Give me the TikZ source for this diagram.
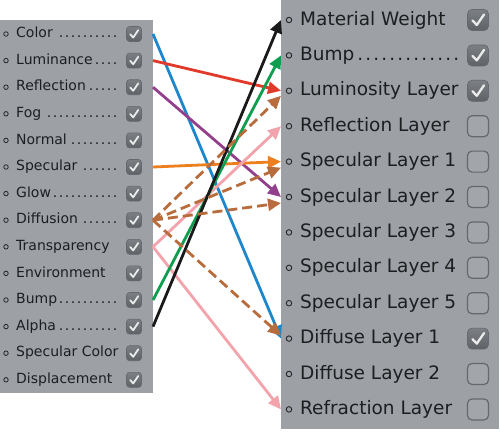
\documentclass[tikz,border=0pt]{standalone}
\usepackage{fontspec}
\setmainfont{DejaVu Sans}
\usetikzlibrary{arrows.meta}
\definecolor{panel}{HTML}{9DA1A5}
\definecolor{boxdark}{HTML}{5E6165}
\definecolor{boxlight}{HTML}{7C8084}
\definecolor{boxedge}{HTML}{65686C}
\definecolor{txt}{HTML}{1C1E20}
\definecolor{cblue}{HTML}{1E87CC}
\definecolor{cred}{HTML}{E23A2A}
\definecolor{cpurple}{HTML}{923F8C}
\definecolor{corange}{HTML}{EE7F1E}
\definecolor{cbrown}{HTML}{B86C3C}
\definecolor{cpink}{HTML}{F2A3AC}
\definecolor{cgreen}{HTML}{0E9E4E}
\definecolor{cblack}{HTML}{1A1A1A}
\newcommand\dotlead[1]{\leaders\hbox to #1{\hss.\hss}\hfill}
\tikzset{
  panelbox/.style={fill=panel, draw=none},
  leftlabel/.style={anchor=west, inner sep=0pt, text=txt, font=\fontsize{14}{16}\selectfont, text height=10.5pt, text depth=3pt},
  rightlabel/.style={anchor=west, inner sep=0pt, text=txt, font=\fontsize{18.5}{22}\selectfont, text height=14pt, text depth=4pt},
  port/.style={circle, draw=black!85, line width=0.8pt, inner sep=0pt, minimum size=4.5pt},
  bigport/.style={circle, draw=black!85, line width=0.9pt, inner sep=0pt, minimum size=5.5pt},
  chk/.style={rounded corners=3pt, inner sep=0pt, minimum size=15pt, top color=boxlight, bottom color=boxdark, draw=boxedge, line width=0.6pt},
  bigchk/.style={rounded corners=4.5pt, inner sep=0pt, minimum size=21pt, top color=boxlight, bottom color=boxdark, draw=boxedge, line width=0.7pt},
  emptychk/.style={rounded corners=4.5pt, inner sep=0pt, minimum size=21pt, fill=panel!95!white, draw=boxedge, line width=1.2pt},
  tick/.style={draw=white!92!black, line width=1.8pt, line cap=round, line join=round},
  link/.style={line width=2.8pt, -{Triangle[length=13pt,width=12pt]}},
  blink/.style={line width=2.8pt, dash pattern=on 10pt off 5pt, -{Triangle[length=13pt,width=12pt]}, color=cbrown},
}
\begin{document}
\begin{tikzpicture}[x=1pt,y=-1pt]
\useasboundingbox (0,0) rectangle (500,431);
\fill[white] (0,0) rectangle (500,431);
% panels
\fill[panelbox] (0,20) rectangle (153,393);
\fill[panelbox] (281,0) rectangle (499,429);
% left list
\foreach \i/\lab/\dots in {0/Color/1,1/Luminance/1,2/Reflection/1,3/Fog/1,4/Normal/1,5/Specular/1,6/Glow/1,7/Diffusion/1,8/Transparency/0,9/Environment/0,10/Bump/1,11/Alpha/1,12/Specular Color/0,13/Displacement/0}{
  \pgfmathsetmacro\yy{34+26.6*\i}
  \node[port] (lp\i) at (6,\yy) {};
  \ifnum\dots=1
    \node[leftlabel] (lt\i) at (16,\yy) {\hbox to 107pt{\lab\dotlead{6pt}}};
  \else
    \node[leftlabel] (lt\i) at (16,\yy) {\lab};
  \fi
  \node[chk] (lc\i) at (134,\yy) {};
  \draw[tick] ([shift={(-3.8pt,-0.2pt)}]lc\i.center) -- ([shift={(-0.8pt,-3.6pt)}]lc\i.center) -- ([shift={(4.2pt,3.8pt)}]lc\i.center);
  \coordinate (L\i) at (153,\yy);
}
% right list
\foreach \j/\lab/\st in {0/Material Weight/1,1/Bump/2,2/Luminosity Layer/1,3/Reflection Layer/0,4/Specular Layer 1/0,5/Specular Layer 2/0,6/Specular Layer 3/0,7/Specular Layer 4/0,8/Specular Layer 5/0,9/Diffuse Layer 1/1,10/Diffuse Layer 2/0,11/Refraction Layer/0}{
  \pgfmathsetmacro\yy{20+35.4*\j}
  \node[bigport] (rp\j) at (289,\yy) {};
  \ifnum\st=2
    \node[rightlabel] (rt\j) at (300,\yy) {\hbox to 160pt{\lab\dotlead{8pt}}};
  \else
    \node[rightlabel] (rt\j) at (300,\yy) {\lab};
  \fi
  \ifnum\st=0
    \node[emptychk] (rc\j) at (478,\yy) {};
  \else
    \node[bigchk] (rc\j) at (478,\yy) {};
    \draw[tick, line width=2.3pt] ([shift={(-5.5pt,-0.5pt)}]rc\j.center) -- ([shift={(-1.2pt,-5pt)}]rc\j.center) -- ([shift={(6pt,5.5pt)}]rc\j.center);
  \fi
  \coordinate (R\j) at (281,\yy);
}
% connectors
\draw[link, cblue] (L0) -- (R9);
\draw[link, cred] (L1) -- (R2);
\draw[link, cpurple] (L2) -- (R5);
\draw[link, corange] (L5) -- (R4);
\draw[link, cpink] (L8) -- (R3);
\draw[link, cpink] (L8) -- (R11);
\draw[link, cgreen] (L10) -- (R1);
\draw[link, cblack] (L11) -- (R0);
\draw[blink] (L7) -- ([yshift=-5pt]R2);
\draw[blink] (L7) -- ([yshift=-6pt]R4);
\draw[blink] (L7) -- ([yshift=-6pt]R5);
\draw[blink] (L7) -- ([yshift=3pt]R9);
\end{tikzpicture}
\end{document}
